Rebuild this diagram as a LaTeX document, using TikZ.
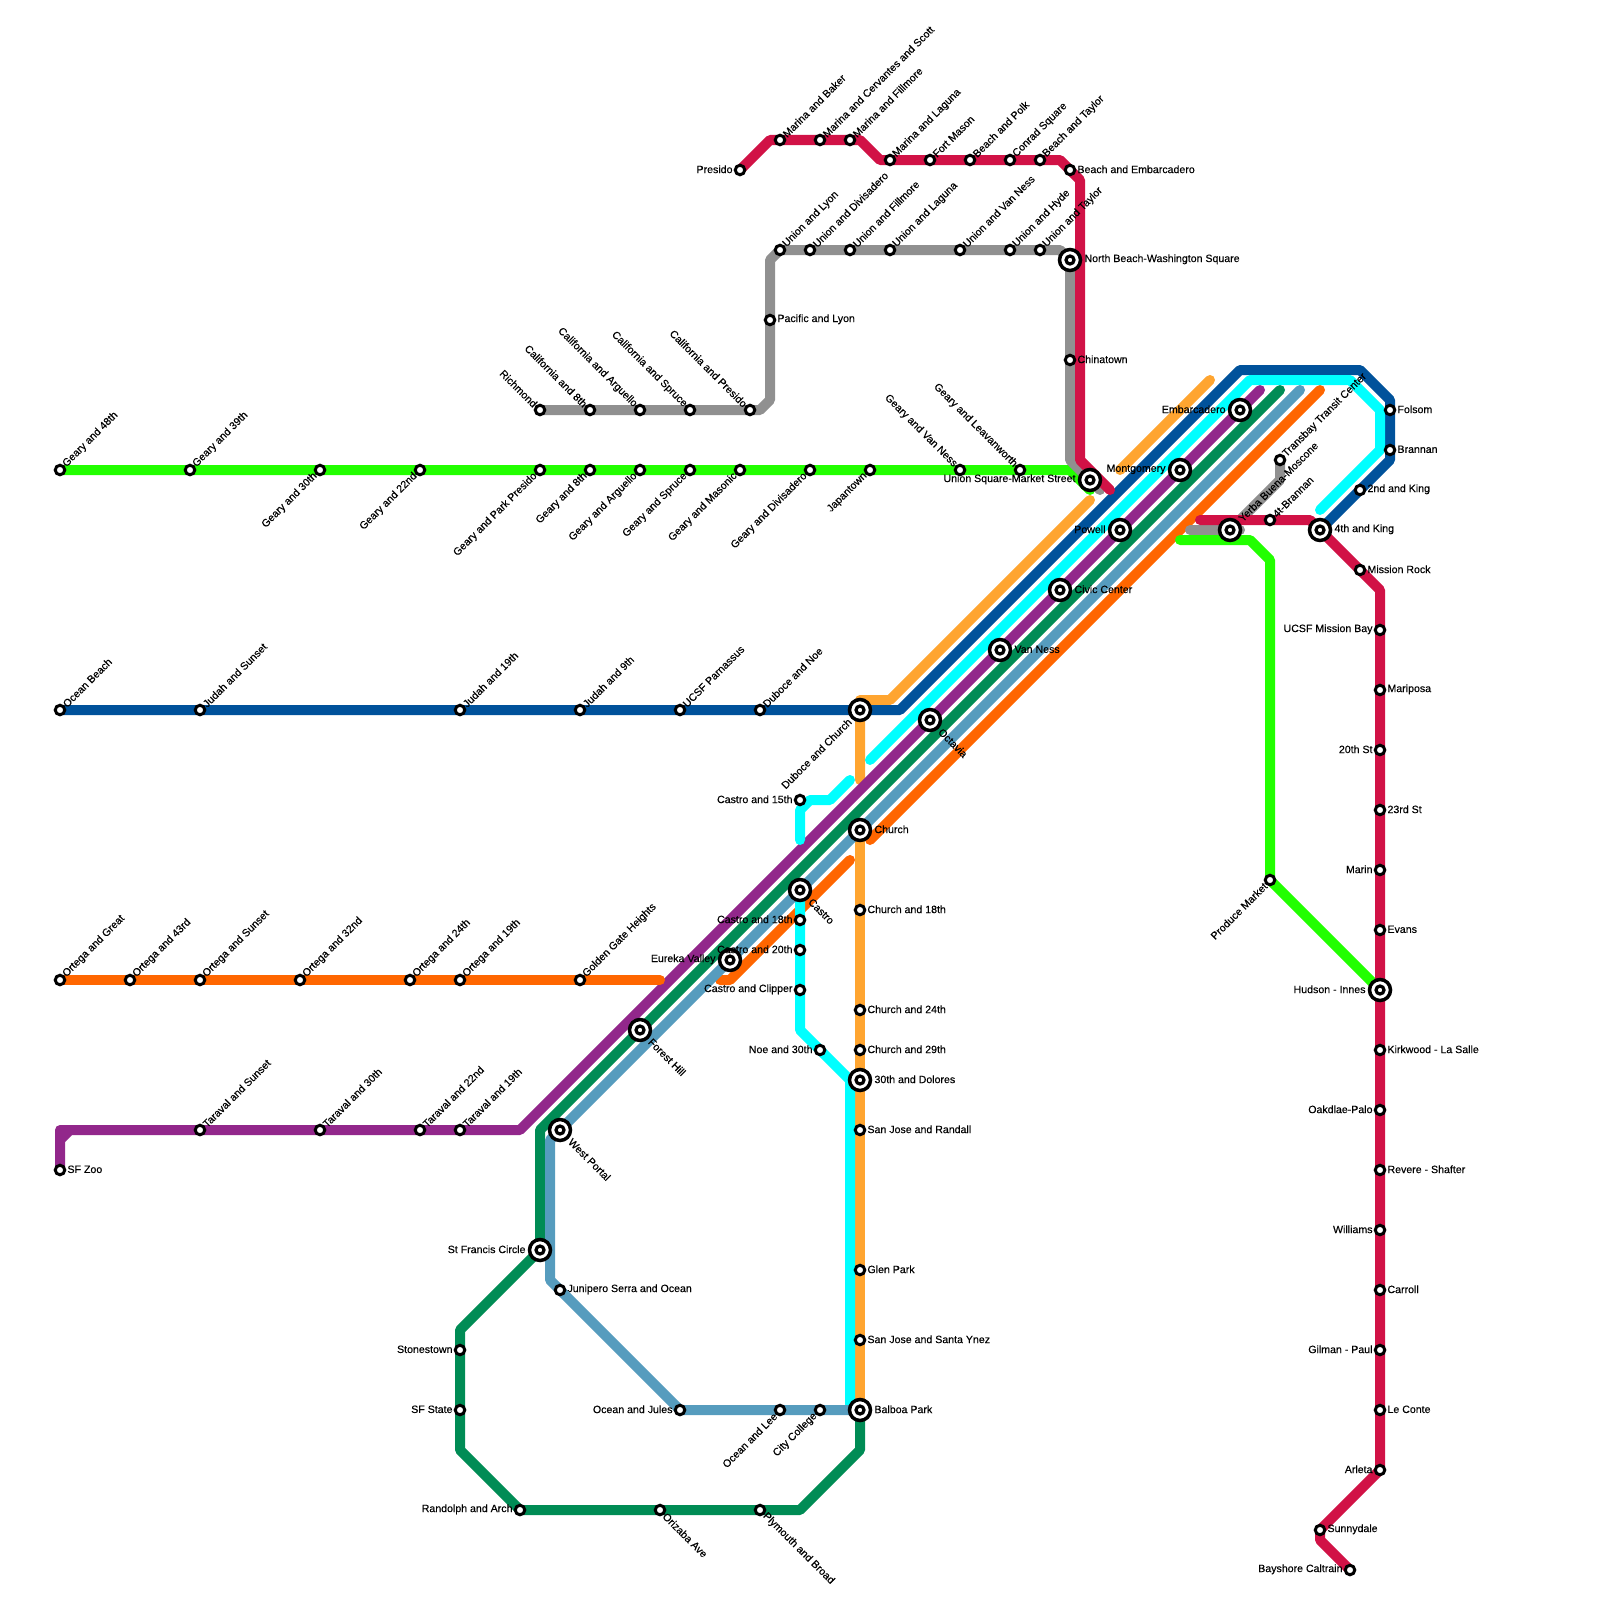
\documentclass[tikz,border=0pt]{standalone}
\usepackage{fontspec}
\setmainfont[FakeBold=0.25]{Liberation Sans}
\usetikzlibrary{backgrounds}
\definecolor{lime1}{RGB}{34,255,0}
\definecolor{red1}{RGB}{209,18,70}
\definecolor{gray1}{RGB}{144,144,144}
\definecolor{gold1}{RGB}{255,165,48}
\definecolor{navy1}{RGB}{0,82,155}
\definecolor{cyan1}{RGB}{0,255,255}
\definecolor{purple1}{RGB}{146,39,139}
\definecolor{green1}{RGB}{0,140,85}
\definecolor{steel1}{RGB}{86,156,190}
\definecolor{orange1}{RGB}{255,102,0}
\tikzset{
    every node/.append style={font=\fontsize{10.6}{12}\selectfont, inner ysep=0pt, outer sep=0pt},
    line/.style={line width=10pt, line cap=round, line join=round},
    stop/.style={circle, draw=black, fill=white, line width=3pt, minimum size=9.5pt, inner sep=0pt},
    hub/.style={circle, draw=black, fill=white, line width=3.5pt, minimum size=21pt, inner sep=0pt,
        path picture={\draw[line width=3.2pt] (path picture bounding box.center) circle (4pt);}},
    le/.style={anchor=west, inner xsep=7.5pt, yshift=0.7pt},
    lw/.style={anchor=east, inner xsep=7.5pt, yshift=0.7pt},
    lne/.style={rotate=45, anchor=west, inner xsep=6.5pt},
    lsw/.style={rotate=45, anchor=east, inner xsep=6.5pt},
    lnw/.style={rotate=-45, anchor=east, inner xsep=6.5pt},
    lse/.style={rotate=-45, anchor=west, inner xsep=6.5pt},
    wide/.style={inner xsep=14.5pt}
}
\begin{document}
\begin{tikzpicture}[x=1pt, y=-1pt]
        \useasboundingbox (0,0) rectangle (1600,1600);

        % Geary
        \node[stop, name=ga] at(60,470) {}; \node[lne, name=gat] at(ga) {Geary and 48th};
        \node[stop, name=gb] at(190,470) {}; \node[lne, name=gbt] at(gb) {Geary and 39th};
        \node[stop, name=gc] at(320,470) {}; \node[lsw, name=gct] at(gc) {Geary and 30th};
        \node[stop, name=gd] at(420,470) {}; \node[lsw, name=gdt] at(gd) {Geary and 22nd};
        \node[stop, name=ge] at(540,470) {}; \node[lsw, name=get] at(ge) {Geary and Park Presido};
        \node[stop, name=gf] at(590,470) {}; \node[lsw, name=gft] at(gf) {Geary and 8th};
        \node[stop, name=gg] at(640,470) {}; \node[lsw, name=ggt] at(gg) {Geary and Arguello};
        \node[stop, name=gh] at(690,470) {}; \node[lsw, name=ght] at(gh) {Geary and Spruce};
        \node[stop, name=gi] at(740,470) {}; \node[lsw, name=git] at(gi) {Geary and Masonic};
        \node[stop, name=gj] at(810,470) {}; \node[lsw, name=gjt] at(gj) {Geary and Divisadero};
        \node[stop, name=gk] at(870,470) {}; \node[lsw, name=gkt] at(gk) {Japantown};
        \node[stop, name=gl] at(960,470) {}; \node[lnw, name=glt] at(gl) {Geary and Van Ness};
        \node[stop, name=gm] at(1020,470) {}; \node[lnw, name=gmt] at(gm) {Geary and Leavanworth};
        \node[hub, name=usq] at(1090,480) {}; \node[lw, wide, name=usqt] at(usq) {Union Square-Market Street};

        % California and Union
        \node[stop, name=ca] at(540,410) {}; \node[lnw, name=cat] at(ca) {Richmond};
        \node[stop, name=cb] at(590,410) {}; \node[lnw, name=cbt] at(cb) {California and 8th};
        \node[stop, name=cc] at(640,410) {}; \node[lnw, name=cct] at(cc) {California and Arguello};
        \node[stop, name=cd] at(690,410) {}; \node[lnw, name=cdt] at(cd) {California and Spruce};
        \node[stop, name=ce] at(750,410) {}; \node[lnw, name=cet] at(ce) {California and Presido};
        \node[stop, name=pl] at(770,320) {}; \node[le, name=plt] at(pl) {Pacific and Lyon};
        \node[stop, name=ua] at(780,250) {}; \node[lne, name=uat] at(ua) {Union and Lyon};
        \node[stop, name=ub] at(810,250) {}; \node[lne, name=ubt] at(ub) {Union and Divisadero};
        \node[stop, name=uc] at(850,250) {}; \node[lne, name=uct] at(uc) {Union and Fillmore};
        \node[stop, name=ud] at(890,250) {}; \node[lne, name=udt] at(ud) {Union and Laguna};
        \node[stop, name=ue] at(960,250) {}; \node[lne, name=uet] at(ue) {Union and Van Ness};
        \node[stop, name=uf] at(1010,250) {}; \node[lne, name=uft] at(uf) {Union and Hyde};
        \node[stop, name=ug] at(1040,250) {}; \node[lne, name=ugt] at(ug) {Union and Taylor};
        \node[hub, name=nbw] at(1070,260) {}; \node[le, wide, name=nbwt] at(nbw) {North Beach-Washington Square};
        \node[stop, name=chn] at(1070,360) {}; \node[le, name=chnt] at(chn) {Chinatown};

        % Marina and Beach
        \node[stop, name=ma] at(740,170) {}; \node[lw, name=mat] at(ma) {Presido};
        \node[stop, name=mb] at(780,140) {}; \node[lne, name=mbt] at(mb) {Marina and Baker};
        \node[stop, name=mc] at(820,140) {}; \node[lne, name=mct] at(mc) {Marina and Cervantes and Scott};
        \node[stop, name=md] at(850,140) {}; \node[lne, name=mdt] at(md) {Marina and Fillmore};
        \node[stop, name=me] at(890,160) {}; \node[lne, name=met] at(me) {Marina and Laguna};
        \node[stop, name=mf] at(930,160) {}; \node[lne, name=mft] at(mf) {Fort Mason};
        \node[stop, name=mg] at(970,160) {}; \node[lne, name=mgt] at(mg) {Beach and Polk};
        \node[stop, name=mh] at(1010,160) {}; \node[lne, name=mht] at(mh) {Conrad Square};
        \node[stop, name=mi] at(1040,160) {}; \node[lne, name=mit] at(mi) {Beach and Taylor};
        \node[stop, name=mj] at(1070,170) {}; \node[le, name=mjt] at(mj) {Beach and Embarcadero};

        % Judah
        \node[stop, name=ja] at(60,710) {}; \node[lne, name=jat] at(ja) {Ocean Beach};
        \node[stop, name=jb] at(200,710) {}; \node[lne, name=jbt] at(jb) {Judah and Sunset};
        \node[stop, name=jc] at(460,710) {}; \node[lne, name=jct] at(jc) {Judah and 19th};
        \node[stop, name=jd] at(580,710) {}; \node[lne, name=jdt] at(jd) {Judah and 9th};
        \node[stop, name=je] at(680,710) {}; \node[lne, name=jet] at(je) {UCSF Parnassus};
        \node[stop, name=jf] at(760,710) {}; \node[lne, name=jft] at(jf) {Duboce and Noe};
        \node[hub, name=dch] at(860,710) {}; \node[lsw, wide, name=dcht] at(dch) {Duboce and Church};

        % Ortega
        \node[stop, name=oa] at(60,980) {}; \node[lne, name=oat] at(oa) {Ortega and Great};
        \node[stop, name=ob] at(130,980) {}; \node[lne, name=obt] at(ob) {Ortega and 43rd};
        \node[stop, name=oc] at(200,980) {}; \node[lne, name=oct] at(oc) {Ortega and Sunset};
        \node[stop, name=od] at(300,980) {}; \node[lne, name=odt] at(od) {Ortega and 32nd};
        \node[stop, name=oe] at(410,980) {}; \node[lne, name=oet] at(oe) {Ortega and 24th};
        \node[stop, name=of] at(460,980) {}; \node[lne, name=oft] at(of) {Ortega and 19th};
        \node[stop, name=og] at(580,980) {}; \node[lne, name=ogt] at(og) {Golden Gate Heights};

        % Taraval
        \node[stop, name=zoo] at(60,1170) {}; \node[le, name=zoot] at(zoo) {SF Zoo};
        \node[stop, name=ta] at(200,1130) {}; \node[lne, name=tat] at(ta) {Taraval and Sunset};
        \node[stop, name=tb] at(320,1130) {}; \node[lne, name=tbt] at(tb) {Taraval and 30th};
        \node[stop, name=tc] at(420,1130) {}; \node[lne, name=tct] at(tc) {Taraval and 22nd};
        \node[stop, name=td] at(460,1130) {}; \node[lne, name=tdt] at(td) {Taraval and 19th};

        % Market tunnel
        \node[hub, name=emb] at(1240,410) {}; \node[lw, wide, name=embt] at(emb) {Embarcadero};
        \node[hub, name=mon] at(1180,470) {}; \node[lw, wide, name=mont] at(mon) {Montgomery};
        \node[hub, name=pow] at(1120,530) {}; \node[lw, wide, name=powt] at(pow) {Powell};
        \node[hub, name=civ] at(1060,590) {}; \node[le, wide, name=civt] at(civ) {Civic Center};
        \node[hub, name=van] at(1000,650) {}; \node[le, wide, name=vant] at(van) {Van Ness};
        \node[hub, name=oct] at(930,720) {}; \node[lse, wide, name=octt] at(oct) {Octavia};
        \node[hub, name=chu] at(860,830) {}; \node[le, wide, name=chut] at(chu) {Church};
        \node[hub, name=cas] at(800,890) {}; \node[lse, wide, name=cast] at(cas) {Castro};
        \node[hub, name=eur] at(730,960) {}; \node[lw, wide, name=eurt] at(eur) {Eureka Valley};
        \node[hub, name=for] at(640,1030) {}; \node[lse, wide, name=fort] at(for) {Forest Hill};
        \node[hub, name=wpo] at(560,1130) {}; \node[lse, wide, name=wpot] at(wpo) {West Portal};
        \node[hub, name=sfc] at(540,1250) {}; \node[lw, wide, name=sfct] at(sfc) {St Francis Circle};

        % Castro and Church
        \node[stop, name=xa] at(800,800) {}; \node[lw, name=xat] at(xa) {Castro and 15th};
        \node[stop, name=xb] at(800,920) {}; \node[lw, name=xbt] at(xb) {Castro and 18th};
        \node[stop, name=xc] at(800,950) {}; \node[lw, name=xct] at(xc) {Castro and 20th};
        \node[stop, name=xd] at(800,990) {}; \node[lw, name=xdt] at(xd) {Castro and Clipper};
        \node[stop, name=xe] at(820,1050) {}; \node[lw, name=xet] at(xe) {Noe and 30th};
        \node[stop, name=ya] at(860,910) {}; \node[le, name=yat] at(ya) {Church and 18th};
        \node[stop, name=yb] at(860,1010) {}; \node[le, name=ybt] at(yb) {Church and 24th};
        \node[stop, name=yc] at(860,1050) {}; \node[le, name=yct] at(yc) {Church and 29th};
        \node[hub, name=yd] at(860,1080) {}; \node[le, wide, name=ydt] at(yd) {30th and Dolores};
        \node[stop, name=ye] at(860,1130) {}; \node[le, name=yet] at(ye) {San Jose and Randall};
        \node[stop, name=yf] at(860,1270) {}; \node[le, name=yft] at(yf) {Glen Park};
        \node[stop, name=yg] at(860,1340) {}; \node[le, name=ygt] at(yg) {San Jose and Santa Ynez};
        \node[hub, name=bal] at(860,1410) {}; \node[le, wide, name=balt] at(bal) {Balboa Park};

        % South west
        \node[stop, name=jun] at(560,1290) {}; \node[le, name=junt] at(jun) {Junipero Serra and Ocean};
        \node[stop, name=sto] at(460,1350) {}; \node[lw, name=stot] at(sto) {Stonestown};
        \node[stop, name=sta] at(460,1410) {}; \node[lw, name=stat] at(sta) {SF State};
        \node[stop, name=ran] at(520,1510) {}; \node[lw, name=rant] at(ran) {Randolph and Arch};
        \node[stop, name=ori] at(660,1510) {}; \node[lse, name=orit] at(ori) {Orizaba Ave};
        \node[stop, name=ply] at(760,1510) {}; \node[lse, name=plyt] at(ply) {Plymouth and Broad};
        \node[stop, name=oju] at(680,1410) {}; \node[lw, name=ojut] at(oju) {Ocean and Jules};
        \node[stop, name=ole] at(780,1410) {}; \node[lsw, name=olet] at(ole) {Ocean and Lee};
        \node[stop, name=cco] at(820,1410) {}; \node[lsw, name=ccot] at(cco) {City College};

        % East side
        \node[hub, name=yer] at(1230,530) {}; \node[lne, wide, name=yert] at(yer) {Yerba Buena-Moscone};
        \node[stop, name=bra] at(1270,520) {}; \node[lne, name=brat] at(bra) {4t-Brannan};
        \node[stop, name=tra] at(1280,460) {}; \node[lne, name=trat] at(tra) {Transbay Transit Center};
        \node[hub, name=kin] at(1320,530) {}; \node[le, wide, name=kint] at(kin) {4th and King};
        \node[stop, name=fol] at(1390,410) {}; \node[le, name=folt] at(fol) {Folsom};
        \node[stop, name=brn] at(1390,450) {}; \node[le, name=brnt] at(brn) {Brannan};
        \node[stop, name=nki] at(1360,490) {}; \node[le, name=nkit] at(nki) {2nd and King};
        \node[stop, name=mis] at(1360,570) {}; \node[le, name=mist] at(mis) {Mission Rock};
        \node[stop, name=pro] at(1270,880) {}; \node[lsw, name=prot] at(pro) {Produce Market};

        % Third Street
        \node[stop, name=sa] at(1380,630) {}; \node[lw, name=sat] at(sa) {UCSF Mission Bay};
        \node[stop, name=sb] at(1380,690) {}; \node[le, name=sbt] at(sb) {Mariposa};
        \node[stop, name=sc] at(1380,750) {}; \node[lw, name=sct] at(sc) {20th St};
        \node[stop, name=sd] at(1380,810) {}; \node[le, name=sdt] at(sd) {23rd St};
        \node[stop, name=se] at(1380,870) {}; \node[lw, name=set] at(se) {Marin};
        \node[stop, name=sf] at(1380,930) {}; \node[le, name=sft] at(sf) {Evans};
        \node[hub, name=hud] at(1380,990) {}; \node[lw, wide, name=hudt] at(hud) {Hudson - Innes};
        \node[stop, name=sg] at(1380,1050) {}; \node[le, name=sgt] at(sg) {Kirkwood - La Salle};
        \node[stop, name=sh] at(1380,1110) {}; \node[lw, name=sht] at(sh) {Oakdlae-Palo};
        \node[stop, name=si] at(1380,1170) {}; \node[le, name=sit] at(si) {Revere - Shafter};
        \node[stop, name=sj] at(1380,1230) {}; \node[lw, name=sjt] at(sj) {Williams};
        \node[stop, name=sk] at(1380,1290) {}; \node[le, name=skt] at(sk) {Carroll};
        \node[stop, name=sl] at(1380,1350) {}; \node[lw, name=slt] at(sl) {Gilman - Paul};
        \node[stop, name=sm] at(1380,1410) {}; \node[le, name=smt] at(sm) {Le Conte};
        \node[stop, name=sn] at(1380,1470) {}; \node[lw, name=snt] at(sn) {Arleta};
        \node[stop, name=so] at(1320,1530) {}; \node[le, name=sot] at(so) {Sunnydale};
        \node[stop, name=sp] at(1350,1570) {}; \node[lw, name=spt] at(sp) {Bayshore Caltrain};

        % bends and free ends
        \coordinate (limeA) at(1070,470); \coordinate (limeB) at(1090,490);
        \coordinate (limeC) at(1180,540); \coordinate (limeD) at(1250,540); \coordinate (limeE) at(1270,560);
        \coordinate (redA) at(770,140); \coordinate (redB) at(860,140); \coordinate (redC) at(880,160);
        \coordinate (redD) at(1060,160); \coordinate (redE) at(1080,180); \coordinate (redF) at(1080,460);
        \coordinate (redG) at(1110,490); \coordinate (redH) at(1200,520); \coordinate (redI) at(1310,520);
        \coordinate (redJ) at(1380,590); \coordinate (redK) at(1320,1540);
        \coordinate (grayA) at(760,410); \coordinate (grayB) at(770,400); \coordinate (grayC) at(770,260);
        \coordinate (grayD) at(1060,250); \coordinate (grayE) at(1070,460); \coordinate (grayF) at(1100,490);
        \coordinate (grayG) at(1190,530); \coordinate (grayH) at(1240,530); \coordinate (grayI) at(1280,480);
        \coordinate (goldA) at(860,780); \coordinate (goldB) at(860,700); \coordinate (goldC) at(890,700);
        \coordinate (goldD) at(1090,500); \coordinate (goldE) at(1120,470); \coordinate (goldF) at(1210,380);
        \coordinate (navyA) at(900,710); \coordinate (navyB) at(1240,370); \coordinate (navyC) at(1360,370);
        \coordinate (navyD) at(1390,400); \coordinate (navyE) at(1390,460);
        \coordinate (cyanA) at(870,760); \coordinate (cyanB) at(1250,380); \coordinate (cyanC) at(1350,380);
        \coordinate (cyanD) at(1380,410); \coordinate (cyanE) at(1380,450); \coordinate (cyanF) at(1320,510);
        \coordinate (cyanG) at(850,780); \coordinate (cyanH) at(830,800); \coordinate (cyanI) at(810,800);
        \coordinate (cyanJ) at(800,810); \coordinate (cyanK) at(800,840);
        \coordinate (cyanL) at(800,1030); \coordinate (cyanM) at(850,1080); \coordinate (cyanN) at(850,1410);
        \coordinate (purpleA) at(60,1130); \coordinate (purpleB) at(70,1130); \coordinate (purpleC) at(520,1130);
        \coordinate (purpleD) at(1260,390); \coordinate (purpleE) at(60,1140);
        \coordinate (greenA) at(1280,390); \coordinate (greenB) at(540,1130); \coordinate (greenC) at(460,1330);
        \coordinate (greenD) at(460,1450); \coordinate (greenE) at(800,1510); \coordinate (greenF) at(860,1450);
        \coordinate (steelA) at(1300,390); \coordinate (steelB) at(550,1140); \coordinate (steelC) at(550,1280);
        \coordinate (orangeA) at(1320,390); \coordinate (orangeB) at(870,840); \coordinate (orangeC) at(850,860);
        \coordinate (orangeD) at(730,980); \coordinate (orangeE) at(720,980); \coordinate (orangeF) at(660,980);

        \begin{scope}[on background layer]
            \draw[line, gold1] (goldA) -- (goldB) -- (goldC) -- (goldD);
            \draw[line, gold1] (goldE) -- (goldF);
            \draw[line, gold1] (chu.center) -- (bal.center);
            \draw[line, navy1] (ja.center) -- (navyA) -- (navyB) -- (navyC) -- (navyD) -- (navyE) -- (kin.center);
            \draw[line, purple1] (zoo.center) -- (purpleA) -- (purpleB) -- (purpleE) -- (purpleB) -- (purpleC) -- (purpleD);
            \draw[line, green1] (greenA) -- (greenB) -- (sfc.center) -- (greenC) -- (greenD) -- (ran.center) -- (greenE) -- (greenF) -- (bal.center);
            \draw[line, orange1] (orangeA) -- (orangeB);
            \draw[line, orange1] (orangeC) -- (orangeD) -- (orangeE);
            \draw[line, orange1] (oa.center) -- (orangeF);
            \draw[line, cyan1] (cyanA) -- (cyanB) -- (cyanC) -- (cyanD) -- (cyanE) -- (cyanF);
            \draw[line, cyan1] (cyanG) -- (cyanH) -- (cyanI) -- (cyanJ) -- (cyanK);
            \draw[line, cyan1] (cas.center) -- (cyanL) -- (cyanM) -- (cyanN);
            \draw[line, steel1] (steelA) -- (steelB) -- (steelC) -- (oju.center) -- (bal.center);
            \draw[line, lime1] (ga.center) -- (limeA) -- (limeB);
            \draw[line, lime1] (limeC) -- (limeD) -- (limeE) -- (pro.center) -- (hud.center);
            \draw[line, gray1] (ca.center) -- (grayA) -- (grayB) -- (grayC) -- (ua.center) -- (grayD) -- (nbw.center) -- (grayE) -- (grayF);
            \draw[line, gray1] (grayG) -- (grayH);
            \draw[line, gray1] (yer.center) -- (grayI) -- (tra.center);
            \draw[line, red1] (ma.center) -- (redA) -- (redB) -- (redC) -- (redD) -- (redE) -- (redF) -- (redG);
            \draw[line, red1] (redH) -- (redI) -- (redJ) -- (sn.center) -- (so.center) -- (redK) -- (sp.center);
        \end{scope}
    \end{tikzpicture}
\end{document}
